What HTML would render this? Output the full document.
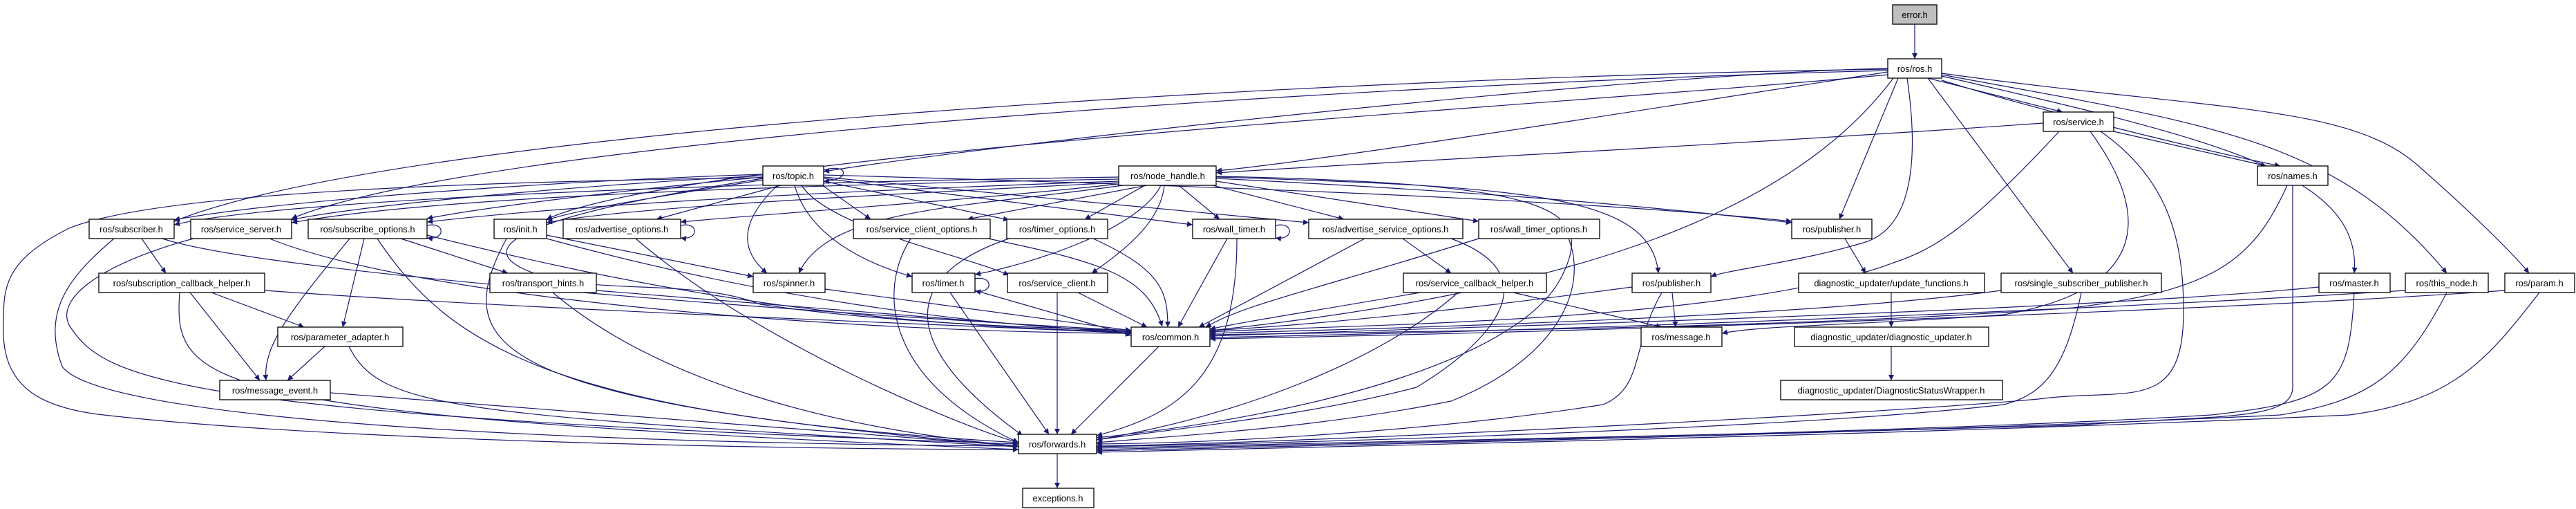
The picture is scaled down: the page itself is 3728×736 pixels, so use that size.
<!DOCTYPE html>
<html><head><meta charset="utf-8"><style>
html,body{margin:0;padding:0;background:#fff;}
svg{display:block;}
text{font-family:"Liberation Sans",sans-serif;font-size:13px;fill:#000;}
</style></head><body>
<svg width="3728" height="736" viewBox="0 0 3728 736" xmlns="http://www.w3.org/2000/svg">
<defs>
<marker id="a" viewBox="0 0 10 10" refX="10" refY="5" markerWidth="11" markerHeight="8" markerUnits="userSpaceOnUse" orient="auto"><path d="M0,0 L10,5 L0,10 z" fill="#191970"/></marker>
</defs>
<g fill="none" stroke="#191970" stroke-width="1.2" marker-end="url(#a)">
<path d="M2771,35 L2771,85"/>
<path d="M2790,113 L2985,162"/>
<path d="M2810,116 C2950,160 3200,220 3300,240"/>
<path d="M2732,104 C2500,140 1900,235 1760,247"/>
<path d="M2732,99 C2400,105 1500,200 1192,248"/>
<path d="M2732,100 C2000,110 600,180 252,320"/>
<path d="M2732,102 C2000,120 700,200 422,316"/>
<path d="M2732,108 C2300,150 1000,220 791,317"/>
<path d="M2747,113 L2662,317"/>
<path d="M2740,113 C2600,300 2300,420 1751,478"/>
<path d="M2760,113 C2780,250 2760,330 2700,350 C2600,380 2500,390 2476,400"/>
<path d="M2790,113 L3000,395"/>
<path d="M2810,110 C3200,200 3420,250 3407,395"/>
<path d="M2810,108 C3200,180 3380,200 3541,395"/>
<path d="M2810,106 C3200,160 3400,150 3500,240 C3580,310 3640,370 3660,395"/>
<path d="M2957,178 C2500,210 1900,240 1760,250"/>
<path d="M3059,190 L3280,240"/>
<path d="M2980,190 C2850,330 2800,360 2740,380 C2500,470 1900,470 1751,480"/>
<path d="M3025,190 C3120,320 3100,420 2900,455 C2700,470 2550,470 2492,482"/>
<path d="M3040,190 C3140,260 3160,350 3160,450 C3160,600 3080,560 2950,577 C2700,600 1900,640 1587,645"/>
<path d="M3310,268 C3260,380 3200,420 3000,445 C2600,475 2000,480 1751,484"/>
<path d="M3318,268 L3318,560 C3318,610 3200,600 3000,615 C2500,630 1900,640 1587,648"/>
<path d="M3356,415 C3000,450 2200,470 1751,486"/>
<path d="M3407,423 C3400,560 3380,580 3200,600 C2800,625 2000,640 1587,650"/>
<path d="M3481,420 C3000,450 2200,480 1751,488"/>
<path d="M3541,423 C3480,540 3430,580 3300,600 C2800,625 2000,642 1587,652"/>
<path d="M3625,420 C3200,450 2300,480 1751,490"/>
<path d="M3675,423 C3600,520 3550,580 3400,600 C2800,628 2000,644 1587,654"/>
<path d="M2896,420 C2600,460 2000,475 1751,482"/>
<path d="M3012,423 C2990,530 2960,570 2900,585 C2600,620 1900,640 1587,646"/>
<path d="M2670,345 L2700,395"/>
<path d="M2737,423 L2737,473"/>
<path d="M2737,501 L2737,550"/>
<path d="M2420,423 L2425,473"/>
<path d="M2362,415 C2100,450 1900,470 1751,478"/>
<path d="M2405,423 C2360,500 2380,560 2320,585 C2100,620 1800,640 1587,642"/>
<path d="M2190,423 L2405,473"/>
<path d="M2055,423 C1900,450 1800,465 1751,476"/>
<path d="M2110,423 C2000,520 1800,600 1587,636"/>
<path d="M1677,501 L1550,628"/>
<path d="M1530,656 L1530,706"/>
<path d="M1660,268 L1400,317"/>
<path d="M1657,268 L1570,317"/>
<path d="M1706,268 L1765,317"/>
<path d="M1755,268 L1945,317"/>
<path d="M1760,262 L2140,320"/>
<path d="M1760,258 C2200,280 2400,300 2593,322"/>
<path d="M1760,256 C2200,270 2390,280 2400,395"/>
<path d="M1680,268 C1650,330 1500,380 1411,397"/>
<path d="M1685,268 C1680,320 1630,360 1580,395"/>
<path d="M1625,268 C1400,300 1200,300 1156,395"/>
<path d="M1760,255 C2250,265 2310,300 2260,400 C2200,520 1900,600 1587,633"/>
<path d="M1619,256 C1000,265 400,290 252,325"/>
<path d="M1619,259 C1000,270 600,290 422,322"/>
<path d="M1619,262 C1100,280 800,300 618,321"/>
<path d="M1619,264 C1300,280 900,300 791,322"/>
<path d="M1619,266 C1400,290 1100,310 985,321"/>
<path d="M1192,246 C1230,235 1230,262 1192,262"/>
<path d="M1104,252 C800,262 400,290 252,318"/>
<path d="M1104,254 C800,270 500,300 422,318"/>
<path d="M1104,256 C900,275 700,300 618,316"/>
<path d="M1104,260 C950,285 850,300 791,318"/>
<path d="M1130,268 L950,317"/>
<path d="M1125,268 C1060,330 1080,370 1110,395"/>
<path d="M1150,268 C1170,340 1250,380 1320,400"/>
<path d="M1160,268 C1200,330 1400,370 1460,398"/>
<path d="M1190,268 L1260,317"/>
<path d="M1192,262 L1460,318"/>
<path d="M1192,258 L1726,325"/>
<path d="M1192,256 L1894,322"/>
<path d="M1192,253 C1800,270 2300,290 2593,320"/>
<path d="M1104,258 C900,290 650,340 760,390 C850,430 1000,400 1100,440 C1300,470 1550,475 1637,478"/>
<path d="M1104,257 C500,265 200,290 100,330 C0,380 5,420 5,480 C5,560 60,590 150,600 C500,640 1200,650 1474,650"/>
<path d="M205,345 L240,395"/>
<path d="M235,345 C400,400 1300,460 1637,478"/>
<path d="M165,345 C100,400 60,450 90,530 C140,600 700,640 1474,645"/>
<path d="M618,326 C645,320 645,348 618,344"/>
<path d="M580,345 L735,395"/>
<path d="M527,345 L496,473"/>
<path d="M506,345 C420,450 380,500 385,550"/>
<path d="M618,340 C900,410 1200,470 1637,480"/>
<path d="M546,345 C650,500 800,600 1474,640"/>
<path d="M390,345 C600,430 1200,480 1637,482"/>
<path d="M280,345 C150,380 80,430 100,470 C150,550 250,600 1474,642"/>
<path d="M791,340 L1090,400"/>
<path d="M791,345 C1100,430 1400,470 1637,480"/>
<path d="M733,345 C650,500 700,580 1474,645"/>
<path d="M985,326 C1012,320 1012,348 985,344"/>
<path d="M920,345 C1100,500 1400,620 1474,640"/>
<path d="M306,423 L440,473"/>
<path d="M275,423 L376,550"/>
<path d="M383,420 C800,450 1400,470 1637,482"/>
<path d="M260,423 C250,560 290,600 1474,650"/>
<path d="M863,420 L1637,482"/>
<path d="M800,423 C950,550 1200,620 1474,645"/>
<path d="M1194,418 L1637,478"/>
<path d="M470,501 L416,550"/>
<path d="M505,501 C550,590 650,600 1474,646"/>
<path d="M478,568 L1474,645"/>
<path d="M1411,403 C1438,398 1438,425 1411,421"/>
<path d="M1411,420 L1637,485"/>
<path d="M1375,423 L1518,628"/>
<path d="M1560,423 L1660,473"/>
<path d="M1530,423 L1530,628"/>
<path d="M1430,345 C1600,380 1660,400 1682,472"/>
<path d="M1318,345 C1270,420 1280,550 1474,640"/>
<path d="M1582,345 C1680,390 1690,420 1690,473"/>
<path d="M1460,345 C1300,400 1300,500 1480,630"/>
<path d="M1846,326 C1873,320 1873,348 1846,344"/>
<path d="M1776,345 L1705,473"/>
<path d="M1790,345 C1790,550 1700,600 1587,630"/>
<path d="M2030,345 L2100,395"/>
<path d="M1975,345 L1735,473"/>
<path d="M2100,345 C2250,400 2150,500 2050,560 C1900,600 1700,620 1587,636"/>
<path d="M2140,345 C1900,420 1800,440 1745,473"/>
<path d="M2270,345 C2300,420 2250,520 2100,580 C1900,620 1700,630 1587,640"/>
</g>
<g stroke="#000" stroke-width="1.3" fill="#fff">
<rect x="2739" y="7" width="64" height="28" fill="#bfbfbf"/>
<rect x="2732" y="85" width="78" height="28"/>
<rect x="2957" y="162" width="102" height="28"/>
<rect x="1104" y="240" width="88" height="28"/>
<rect x="1619" y="240" width="141" height="28"/>
<rect x="3267" y="240" width="102" height="28"/>
<rect x="129" y="317" width="123" height="28"/>
<rect x="276" y="317" width="146" height="28"/>
<rect x="446" y="317" width="172" height="28"/>
<rect x="715" y="317" width="76" height="28"/>
<rect x="815" y="317" width="170" height="28"/>
<rect x="1235" y="317" width="198" height="28"/>
<rect x="1457" y="317" width="146" height="28"/>
<rect x="1726" y="317" width="120" height="28"/>
<rect x="1894" y="317" width="223" height="28"/>
<rect x="2140" y="317" width="175" height="28"/>
<rect x="2593" y="317" width="116" height="28"/>
<rect x="143" y="395" width="240" height="28"/>
<rect x="709" y="395" width="154" height="28"/>
<rect x="1090" y="395" width="104" height="28"/>
<rect x="1320" y="395" width="91" height="28"/>
<rect x="1458" y="395" width="145" height="28"/>
<rect x="2031" y="395" width="207" height="28"/>
<rect x="2362" y="395" width="114" height="28"/>
<rect x="2603" y="395" width="269" height="28"/>
<rect x="2896" y="395" width="232" height="28"/>
<rect x="3356" y="395" width="103" height="28"/>
<rect x="3481" y="395" width="120" height="28"/>
<rect x="3625" y="395" width="101" height="28"/>
<rect x="402" y="473" width="181" height="28"/>
<rect x="1637" y="473" width="114" height="28"/>
<rect x="2375" y="473" width="117" height="28"/>
<rect x="2597" y="473" width="281" height="28"/>
<rect x="318" y="550" width="160" height="28"/>
<rect x="2577" y="550" width="321" height="28"/>
<rect x="1474" y="628" width="113" height="28"/>
<rect x="1480" y="706" width="103" height="28"/>
</g>
<g text-anchor="middle">
<text x="2771" y="26">error.h</text>
<text x="2771" y="104">ros/ros.h</text>
<text x="3008" y="181">ros/service.h</text>
<text x="1148" y="259">ros/topic.h</text>
<text x="1690" y="259">ros/node_handle.h</text>
<text x="3318" y="259">ros/names.h</text>
<text x="190" y="336">ros/subscriber.h</text>
<text x="349" y="336">ros/service_server.h</text>
<text x="532" y="336">ros/subscribe_options.h</text>
<text x="753" y="336">ros/init.h</text>
<text x="900" y="336">ros/advertise_options.h</text>
<text x="1334" y="336">ros/service_client_options.h</text>
<text x="1530" y="336">ros/timer_options.h</text>
<text x="1786" y="336">ros/wall_timer.h</text>
<text x="2005" y="336">ros/advertise_service_options.h</text>
<text x="2227" y="336">ros/wall_timer_options.h</text>
<text x="2651" y="336">ros/publisher.h</text>
<text x="263" y="414">ros/subscription_callback_helper.h</text>
<text x="786" y="414">ros/transport_hints.h</text>
<text x="1142" y="414">ros/spinner.h</text>
<text x="1365" y="414">ros/timer.h</text>
<text x="1530" y="414">ros/service_client.h</text>
<text x="2134" y="414">ros/service_callback_helper.h</text>
<text x="2419" y="414">ros/publisher.h</text>
<text x="2737" y="414">diagnostic_updater/update_functions.h</text>
<text x="3012" y="414">ros/single_subscriber_publisher.h</text>
<text x="3407" y="414">ros/master.h</text>
<text x="3541" y="414">ros/this_node.h</text>
<text x="3675" y="414">ros/param.h</text>
<text x="492" y="492">ros/parameter_adapter.h</text>
<text x="1694" y="492">ros/common.h</text>
<text x="2433" y="492">ros/message.h</text>
<text x="2737" y="492">diagnostic_updater/diagnostic_updater.h</text>
<text x="398" y="569">ros/message_event.h</text>
<text x="2737" y="569">diagnostic_updater/DiagnosticStatusWrapper.h</text>
<text x="1530" y="647">ros/forwards.h</text>
<text x="1531" y="725">exceptions.h</text>
</g>
</svg>
</body></html>
